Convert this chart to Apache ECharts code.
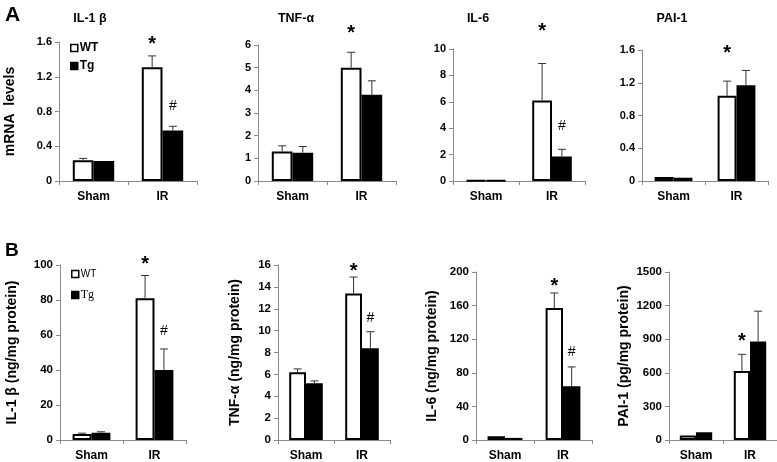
<!DOCTYPE html>
<html><head><meta charset="utf-8">
<script src="https://cdn.jsdelivr.net/npm/echarts@6/dist/echarts.min.js"></script>
<style>html,body{margin:0;padding:0;background:#fff}#c{width:777px;height:462px}</style>
</head><body><div id="c"></div>
<script>
// ---------- DATA ----------
const categories = ['Sham', 'IR'];
const seriesNames = ['WT', 'Tg'];

// Panel A (mRNA levels)
const titlesA = ['IL-1 β', 'TNF-α', 'IL-6', 'PAI-1'];
const il1bA_WT = [0.24, 1.31], il1bA_WTerr = [0.02, 0.13];
const il1bA_Tg = [0.23, 0.58], il1bA_TgErr = [0.0, 0.05];
const tnfA_WT = [1.3, 5.0],    tnfA_WTerr = [0.25, 0.68];
const tnfA_Tg = [1.25, 3.8],   tnfA_TgErr = [0.27, 0.62];
const il6A_WT = [0.05, 6.1],   il6A_WTerr = [0.0, 2.8];
const il6A_Tg = [0.04, 1.85],  il6A_TgErr = [0.0, 0.55];
const paiA_WT = [0.05, 1.04],  paiA_WTerr = [0.0, 0.18];
const paiA_Tg = [0.04, 1.17],  paiA_TgErr = [0.0, 0.18];
const yMaxA = [1.6, 6, 10, 1.6];
const yStepA = [0.4, 1, 2, 0.4];
const yTitleA = 'mRNA  levels';

// Panel B (protein)
const yTitlesB = ['IL-1 β (ng/mg protein)', 'TNF-α (ng/mg protein)', 'IL-6 (ng/mg protein)', 'PAI-1 (pg/mg protein)'];
const il1bB_WT = [3.5, 81],  il1bB_WTerr = [0.4, 13];
const il1bB_Tg = [4.2, 40],  il1bB_TgErr = [0.5, 12];
const tnfB_WT = [6.2, 13.4], tnfB_WTerr = [0.3, 1.5];
const tnfB_Tg = [5.2, 8.4],  tnfB_TgErr = [0.2, 1.5];
const il6B_WT = [4.5, 157],  il6B_WTerr = [0, 18];
const il6B_Tg = [2.5, 64],   il6B_TgErr = [0, 23];
const paiB_WT = [40, 615],   paiB_WTerr = [0, 150];
const paiB_Tg = [70, 880],   paiB_TgErr = [0, 270];
const yMaxB = [100, 16, 200, 1500];
const yStepB = [20, 2, 40, 300];

// significance marks
const marksWT_A = [['', '*'], ['', '*'], ['', '*'], ['', '*']];
const marksTg_A = [['', '#'], ['', ''], ['', '#'], ['', '']];
const marksWT_B = [['', '*'], ['', '*'], ['', '*'], ['', '*']];
const marksTg_B = [['', '#'], ['', '#'], ['', '#'], ['', '']];

// ---------- LAYOUT / STYLE ----------
const FONT = 'Arial, "Liberation Sans", sans-serif';
const gridsA = [
  {left: 59, top: 42, width: 138, height: 139},
  {left: 258, top: 45, width: 138, height: 136},
  {left: 453, top: 49, width: 132, height: 132},
  {left: 642, top: 50, width: 126, height: 131}
];
const gridsB = [
  {left: 60, top: 265, width: 126, height: 175},
  {left: 278, top: 265, width: 112, height: 175},
  {left: 476, top: 272, width: 116, height: 169},
  {left: 669, top: 272, width: 108, height: 169}
];
const titlePosA = [85, 291, 473, 667];
const starOffA = [15, 23, 36, 32], hashOffA = [20, 0, 23, 0];
const starOffB = [15, 10, 11, 17], hashOffB = [18, 14, 15, 0];
const yNameGapB = [41, 36, 37, 38];
const BAR_FRAC = 0.3;
const AXIS_COLOR = '#8a8a8a';
const STAR_FS = 20;

const dataA = [
  [il1bA_WT, il1bA_WTerr, il1bA_Tg, il1bA_TgErr],
  [tnfA_WT, tnfA_WTerr, tnfA_Tg, tnfA_TgErr],
  [il6A_WT, il6A_WTerr, il6A_Tg, il6A_TgErr],
  [paiA_WT, paiA_WTerr, paiA_Tg, paiA_TgErr]
];
const dataB = [
  [il1bB_WT, il1bB_WTerr, il1bB_Tg, il1bB_TgErr],
  [tnfB_WT, tnfB_WTerr, tnfB_Tg, tnfB_TgErr],
  [il6B_WT, il6B_WTerr, il6B_Tg, il6B_TgErr],
  [paiB_WT, paiB_WTerr, paiB_Tg, paiB_TgErr]
];

const grid = [], xAxis = [], yAxis = [], series = [];

function makeErr(means, errs, marks, side, starOff, hashOff) {
  return function (params, api) {
    const i = params.dataIndex;
    const m = means[i], e = errs[i];
    const p0 = api.coord([i, m]);
    const p1 = api.coord([i, m + e]);
    const band = api.size([1, 0])[0];
    const x = p0[0] + side * band * BAR_FRAC / 2;
    const ch = [];
    if (e > 0) {
      ch.push({type: 'line', shape: {x1: x, y1: p0[1], x2: x, y2: p1[1]}, style: {stroke: '#333', lineWidth: 1}});
      ch.push({type: 'line', shape: {x1: x - 4, y1: p1[1], x2: x + 4, y2: p1[1]}, style: {stroke: '#333', lineWidth: 1}});
    }
    const mk = marks[i];
    if (mk === '*') {
      ch.push({type: 'text', x: x, y: p1[1] - starOff + 0.2 * STAR_FS, style: {text: '*', align: 'center', verticalAlign: 'middle', fontSize: STAR_FS, fontWeight: 'bold', fontFamily: FONT, fill: '#000'}});
    } else if (mk === '#') {
      ch.push({type: 'text', x: x, y: p1[1] - hashOff, style: {text: '#', align: 'center', verticalAlign: 'middle', fontSize: 14, fontFamily: FONT, fill: '#000'}});
    }
    return {type: 'group', children: ch};
  };
}

function fmt(v) { return String(+v.toFixed(3)); }

function addPanel(g, gi, d, max, step, tickFont, yName, nameGap, mWT, mTg, sOff, hOff) {
  grid.push(Object.assign({containLabel: false}, g));
  xAxis.push({
    type: 'category', gridIndex: gi, data: categories,
    axisLine: {lineStyle: {color: AXIS_COLOR, width: 1}},
    axisTick: {show: true, length: 4, lineStyle: {color: AXIS_COLOR}},
    axisLabel: {color: '#000', fontWeight: 'bold', fontSize: 12, fontFamily: FONT, margin: 10}
  });
  yAxis.push({
    type: 'value', gridIndex: gi, min: 0, max: max, interval: step,
    name: yName, nameLocation: 'middle', nameGap: nameGap, nameRotate: 90,
    nameTextStyle: {color: '#000', fontWeight: 'bold', fontSize: 14, fontFamily: FONT},
    axisLine: {show: true, lineStyle: {color: AXIS_COLOR, width: 1}},
    axisTick: {show: true, length: 4, lineStyle: {color: AXIS_COLOR}},
    splitLine: {show: false},
    axisLabel: {color: '#000', fontWeight: 'bold', fontSize: tickFont, fontFamily: FONT, margin: 7, formatter: fmt}
  });
  const [wt, wtE, tg, tgE] = d;
  series.push({name: 'WT', type: 'bar', xAxisIndex: gi, yAxisIndex: gi, data: wt,
    barWidth: (BAR_FRAC * 100) + '%', barGap: '0%',
    itemStyle: {color: '#fff', borderColor: '#000', borderWidth: 2}});
  series.push({name: 'Tg', type: 'bar', xAxisIndex: gi, yAxisIndex: gi, data: tg,
    barWidth: (BAR_FRAC * 100) + '%', barGap: '0%',
    itemStyle: {color: '#000', borderColor: '#000', borderWidth: 2}});
  series.push({name: 'errWT' + gi, type: 'custom', xAxisIndex: gi, yAxisIndex: gi, z: 5,
    data: wt.map((v, i) => [i, v + wtE[i]]), encode: {x: 0, y: 1},
    renderItem: makeErr(wt, wtE, mWT, -1, sOff, hOff)});
  series.push({name: 'errTg' + gi, type: 'custom', xAxisIndex: gi, yAxisIndex: gi, z: 5,
    data: tg.map((v, i) => [i, v + tgE[i]]), encode: {x: 0, y: 1},
    renderItem: makeErr(tg, tgE, mTg, 1, sOff, hOff)});
}

for (let k = 0; k < 4; k++) {
  addPanel(gridsA[k], k, dataA[k], yMaxA[k], yStepA[k], 11, k === 0 ? yTitleA : '', 42,
    marksWT_A[k], marksTg_A[k], starOffA[k], hashOffA[k]);
}
for (let k = 0; k < 4; k++) {
  addPanel(gridsB[k], k + 4, dataB[k], yMaxB[k], yStepB[k], 11.5, yTitlesB[k], yNameGapB[k],
    marksWT_B[k], marksTg_B[k], starOffB[k], hashOffB[k]);
}

const titles = [
  {text: 'A', left: 0, top: 0, textStyle: {fontSize: 21, fontWeight: 'bold', color: '#000', fontFamily: FONT}},
  {text: 'B', left: 0, top: 236, textStyle: {fontSize: 19, fontWeight: 'bold', color: '#000', fontFamily: FONT}}
];
for (let k = 0; k < 4; k++) {
  titles.push({text: titlesA[k], left: titlePosA[k], top: 7, textAlign: 'center',
    textStyle: {fontSize: 12.5, fontWeight: 'bold', color: '#000', fontFamily: FONT}});
}

const option = {
  animation: false,
  backgroundColor: '#fff',
  title: titles,
  legend: [
    {data: seriesNames, orient: 'vertical', left: 65, top: 37, itemWidth: 7, itemHeight: 7, itemGap: 6,
     icon: 'rect', itemStyle: {borderWidth: 1.5, borderColor: '#000'},
     textStyle: {fontSize: 12, fontWeight: 'bold', color: '#000', fontFamily: FONT, padding: [0, 0, 0, -3]}},
    {orient: 'vertical', left: 66, top: 264, itemWidth: 7, itemHeight: 7, itemGap: 10,
     icon: 'rect', itemStyle: {borderWidth: 1.5, borderColor: '#000'},
     data: [
       {name: 'WT', textStyle: {fontSize: 10, color: '#000', fontFamily: FONT}},
       {name: 'Tg', textStyle: {fontSize: 12, color: '#000', fontFamily: '"Liberation Serif", "DejaVu Serif", serif'}}
     ],
     textStyle: {padding: [0, 0, 0, -3]}}
  ],
  grid: grid, xAxis: xAxis, yAxis: yAxis, series: series
};
const chart = echarts.init(document.getElementById('c'), null, {renderer: 'canvas'});
chart.setOption(option);
</script></body></html>
